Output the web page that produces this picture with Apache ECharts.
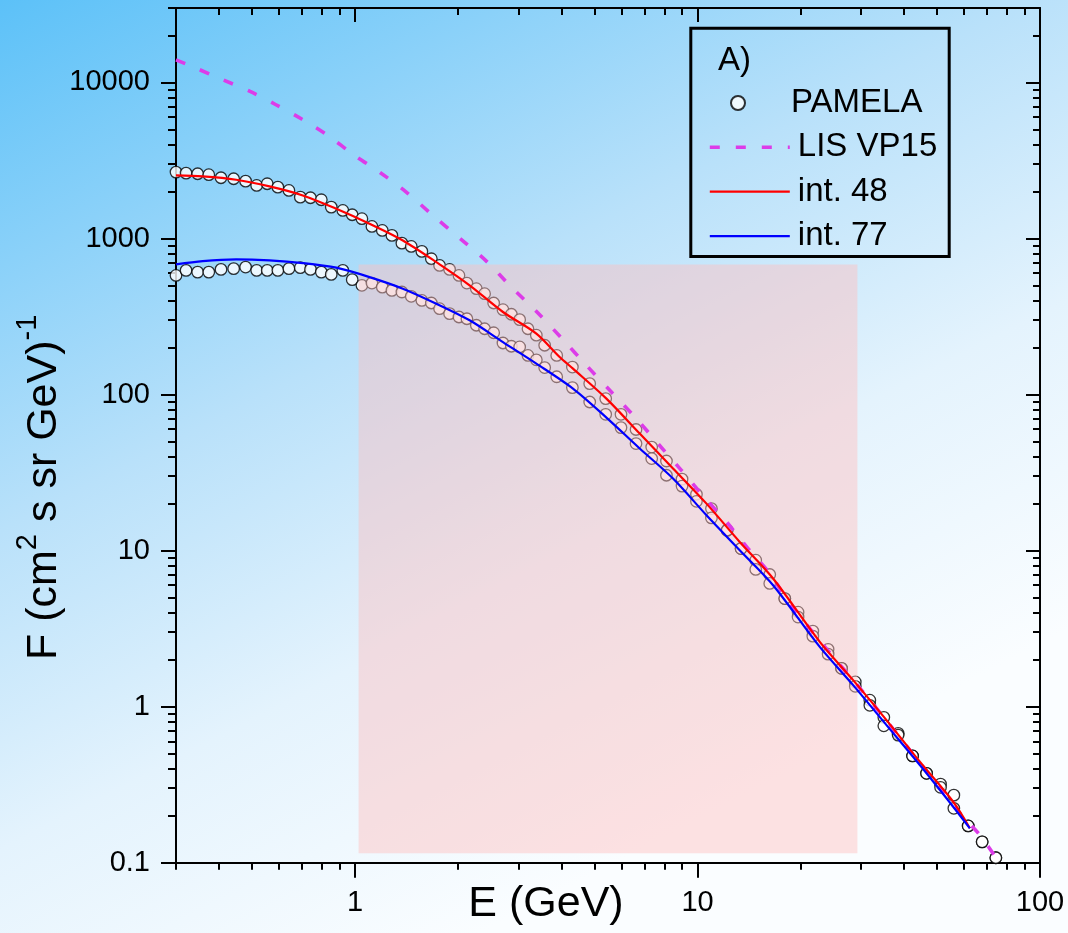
<!DOCTYPE html>
<html>
<head>
<meta charset="utf-8">
<script src="https://cdn.jsdelivr.net/npm/echarts@6/dist/echarts.min.js"></script>
<style>html,body{margin:0;padding:0;}#c{width:1068px;height:933px;}</style>
</head>
<body>
<div id="c"></div>
<script>
// ---- data ----
const energy = [0.30, 0.321, 0.347, 0.374, 0.406, 0.442, 0.479, 0.516, 0.554, 0.595, 0.641, 0.692, 0.741, 0.797, 0.852, 0.921, 0.981, 1.047, 1.120, 1.201, 1.281, 1.370, 1.459, 1.567, 1.670, 1.765, 1.888, 2.011, 2.121, 2.260, 2.389, 2.539, 2.703, 2.860, 3.024, 3.198, 3.383, 3.578, 3.88,
  4.311, 4.843, 5.393, 5.977, 6.613, 7.348, 8.114, 9.010, 9.927, 10.98, 12.20, 13.40, 14.79, 16.25, 17.98, 19.66, 21.71, 24.06, 26.33, 28.88, 31.85, 34.99, 38.53, 42.45, 46.64, 51.24, 56.03, 61.70, 67.78, 74.32];
const pamelaHigh = [2663, 2624, 2600, 2563, 2451, 2415, 2331, 2188, 2244, 2134, 2032, 1841, 1825, 1772, 1589, 1513, 1420, 1339, 1195, 1127, 1047, 934, 890, 827, 742, 672, 634, 580, 518, 477, 443, 386, 350, 327, 302, 264, 240, 207, 178,
  150.1, 117.5, 94.2, 74.7, 59.7, 46.1, 37.5, 28.7, 22.97, 18.6, 13.5, 10.3, 8.68, 7.03, 4.93, 4.03, 3.05, 2.33, 1.76, 1.44, 1.10, 0.854, 0.674, 0.483, 0.374, 0.319, 0.271, 0.172, 0.136, 0.1076];
const pamelaLow = [580, 625, 609, 609, 634, 641, 656, 625, 625, 625, 641, 650, 634, 609, 589, 625, 545, 501, 518, 488, 465, 454, 426, 401, 386, 355, 330, 314, 306, 278, 264, 249, 214, 204, 202, 178, 167, 149, 130,
  110.8, 89.6, 74.7, 61.4, 48.5, 38.9, 30.4, 25.9, 20.7, 16.2, 13.5, 10.3, 7.57, 6.16, 4.93, 3.75, 2.83, 2.17, 1.76, 1.35, 1.02, 0.754, 0.657, 0.483, 0.374, 0.304, 0.223, 0.172, 0.136, 0.1076];

const lisE = [0.3, 0.3436, 0.411, 0.4918, 0.5857, 0.6965, 0.8325, 0.9966, 1.179, 1.411, 1.688, 2.020, 2.417, 2.860, 3.420, 4.047, 4.736, 5.604, 6.586, 7.666, 8.974, 10.38, 12.15, 14.05, 16.25, 18.59, 24.88, 28.47, 33.31, 44.58, 51.0, 58.34, 66.74, 76.35];
const lisF = [13970, 12340, 10400, 8790, 7224, 5850, 4574, 3406, 2663, 1983, 1406, 1006, 716.6, 488.5, 332.9, 224.8, 153.9, 103.8, 71.2, 48.5, 32.7, 22.4, 15.27, 10.31, 7.135, 4.583, 2.085, 1.479, 0.975, 0.437, 0.2996, 0.2072, 0.1504, 0.099];

const int48E = [0.3, 0.3591, 0.4496, 0.5626, 0.7038, 0.8813, 1.102, 1.379, 1.727, 2.160, 2.703, 3.383, 3.957, 4.328, 5.419, 6.779, 8.480, 10.62, 13.28, 16.62, 22.75, 28.47, 35.63, 44.58, 55.78, 62.40];
const int48F = [2536, 2499, 2380, 2157, 1888, 1551, 1244, 972, 706, 501, 338, 245.7, 174, 146.6, 94.2, 56.2, 33.6, 20.0, 11.37, 6.627, 2.602, 1.479, 0.8203, 0.4435, 0.2458, 0.1661];

const int77E = [0.3, 0.3591, 0.4496, 0.5626, 0.7038, 0.8813, 1.102, 1.379, 1.727, 2.160, 2.703, 3.383, 4.328, 5.419, 6.779, 8.480, 10.62, 13.28, 16.62, 22.75, 28.47, 35.63, 44.58, 55.78, 62.40];
const int77F = [682.5, 716.6, 734.8, 724, 696, 650, 566, 477, 382, 299, 217, 157.9, 109.2, 71.2, 45.1, 28.95, 16.85, 10.06, 6.003, 2.417, 1.374, 0.7618, 0.4224, 0.2284, 0.1661];

const shadeE = [1.024, 29.3];
const shadeF = [0.115, 682];

const xMajor = [1, 10, 100];
const xMinor = [0.3, 0.4, 0.5, 0.6, 0.7, 0.8, 0.9, 2, 3, 4, 5, 6, 7, 8, 9, 20, 30, 40, 50, 60, 70, 80, 90];
const yMajor = [0.1, 1, 10, 100, 1000, 10000];
const yMinor = [0.2, 0.3, 0.4, 0.5, 0.6, 0.7, 0.8, 0.9, 2, 3, 4, 5, 6, 7, 8, 9, 20, 30, 40, 50, 60, 70, 80, 90,
  200, 300, 400, 500, 600, 700, 800, 900, 2000, 3000, 4000, 5000, 6000, 7000, 8000, 9000, 20000, 30000];

const X_MIN = 0.3, X_MAX = 100, Y_MIN = 0.1, Y_MAX = 30000;
const FONT = 'Liberation Sans, Arial, Helvetica, sans-serif';

// ---- helpers ----
function zip(a, b) { return a.map((v, i) => [v, b[i]]); }
function fmt(v) { return String(+(+v).toPrecision(6)); }

function axis(kind, position, ticks, len, inside, showLine, label) {
  const o = {
    type: 'log', logBase: 10, position: position,
    min: kind === 'x' ? X_MIN : Y_MIN, max: kind === 'x' ? X_MAX : Y_MAX,
    axisLine: { show: showLine, onZero: false, lineStyle: { color: '#000', width: 2 } },
    axisTick: { show: true, inside: inside, length: len, customValues: ticks, lineStyle: { color: '#000', width: 2 } },
    minorTick: { show: false },
    splitLine: { show: false },
    axisLabel: { show: false },
    silent: true
  };
  if (label) {
    o.axisLabel = {
      show: true, customValues: ticks, formatter: fmt,
      fontSize: 29, fontFamily: FONT, color: '#000',
      margin: 26, lineHeight: 29
    };
  }
  return o;
}

const xAxes = [
  axis('x', 'bottom', xMajor, 15, false, true, true),
  axis('x', 'bottom', xMinor, 7, false, false, false),
  axis('x', 'top', xMajor, 14, true, true, false),
  axis('x', 'top', xMinor, 7, true, false, false)
];
xAxes[0].name = 'E (GeV)';
xAxes[0].nameLocation = 'middle';
xAxes[0].nameGap = 20;
xAxes[0].nameMoveOverlap = false;
xAxes[0].nameTextStyle = { fontSize: 43, fontFamily: FONT, color: '#000', lineHeight: 43, padding: [0, 124, 0, 0] };

const yAxes = [
  axis('y', 'left', yMajor, 15, false, true, true),
  axis('y', 'left', yMinor, 8, false, false, false),
  axis('y', 'right', yMajor, 14, true, true, false),
  axis('y', 'right', yMinor, 7, true, false, false)
];
yAxes[0].name = '{a|F (cm}{s|2}{a| s sr GeV)}{s|-1}';
yAxes[0].nameLocation = 'middle';
yAxes[0].nameRotate = 90;
yAxes[0].nameGap = 100;
yAxes[0].nameMoveOverlap = false;
yAxes[0].nameTextStyle = {
  padding: [0, 104, 0, 0],
  rich: {
    a: { fontSize: 43, lineHeight: 63, fontFamily: FONT, color: '#000' },
    s: { fontSize: 29, lineHeight: 29, verticalAlign: 'top', fontFamily: FONT, color: '#000' }
  }
};

const markerStyle = { color: '#ffffff', borderColor: '#000', borderWidth: 1.3 };

const option = {
  animation: false,
  backgroundColor: {
    type: 'linear', x: 0, y: 0, x2: 0.45, y2: 1,
    colorStops: [
      { offset: 0, color: '#5cc1f8' },
      { offset: 0.45, color: '#b9e1fa' },
      { offset: 0.72, color: '#e4f3fd' },
      { offset: 1, color: '#fafdff' }
    ]
  },
  grid: { left: 176, right: 28, top: 8, bottom: 70.3, containLabel: false, outerBoundsMode: 'none' },
  title: {
    text: 'A)', left: 718, top: 44, padding: 0,
    textStyle: { fontSize: 33, fontWeight: 'normal', fontFamily: FONT, color: '#000', lineHeight: 33 }
  },
  legend: [
    {
      data: ['PAMELA'], orient: 'vertical', left: 730, top: 86.5, padding: 0,
      itemWidth: 14, itemHeight: 14, itemGap: 11.4, selectedMode: false,
      textStyle: { fontSize: 33, fontFamily: FONT, color: '#000', lineHeight: 33, padding: [0, 0, 0, 41] }
    },
    {
      data: ['LIS VP15', 'int. 48', 'int. 77'], orient: 'vertical', left: 708, top: 130.8, padding: 0,
      itemWidth: 80, itemHeight: 14, itemGap: 11.4, selectedMode: false,
      itemStyle: { opacity: 0 },
      lineStyle: { width: 'inherit' },
      textStyle: { fontSize: 33, fontFamily: FONT, color: '#000', lineHeight: 33, padding: [0, 0, 0, 3] }
    }
  ],
  graphic: [{
    type: 'rect', silent: true, z: 100,
    shape: { x: 690.8, y: 28.2, width: 258.4, height: 228.3 },
    style: { fill: 'none', stroke: '#000', lineWidth: 3 }
  }],
  xAxis: xAxes,
  yAxis: yAxes,
  series: [
    {
      name: 'PAMELA', type: 'scatter', xAxisIndex: 0, yAxisIndex: 0, z: 2,
      symbol: 'circle', symbolSize: 11.5, itemStyle: markerStyle,
      data: zip(energy, pamelaHigh),
      markArea: {
        silent: true, z: 3,
        itemStyle: { color: 'rgba(255,190,190,0.45)', borderWidth: 0 },
        data: [[{ coord: [shadeE[0], shadeF[1]] }, { coord: [shadeE[1], shadeF[0]] }]]
      }
    },
    {
      name: 'PAMELA', type: 'scatter', xAxisIndex: 0, yAxisIndex: 0, z: 2,
      symbol: 'circle', symbolSize: 11.5, itemStyle: markerStyle,
      data: zip(energy, pamelaLow)
    },
    {
      name: 'LIS VP15', type: 'line', xAxisIndex: 0, yAxisIndex: 0, z: 5,
      showSymbol: false, symbol: 'none', smooth: 0.3,
      lineStyle: { color: '#dc3ce8', width: 3.6, type: [10, 16] },
      itemStyle: { color: '#dc3ce8' },
      data: zip(lisE, lisF)
    },
    {
      name: 'int. 48', type: 'line', xAxisIndex: 0, yAxisIndex: 0, z: 5,
      showSymbol: false, symbol: 'none', smooth: 0.3,
      lineStyle: { color: '#ff0000', width: 2.2 },
      itemStyle: { color: '#ff0000' },
      data: zip(int48E, int48F)
    },
    {
      name: 'int. 77', type: 'line', xAxisIndex: 0, yAxisIndex: 0, z: 5,
      showSymbol: false, symbol: 'none', smooth: 0.3,
      lineStyle: { color: '#0000ff', width: 2.2 },
      itemStyle: { color: '#0000ff' },
      data: zip(int77E, int77F)
    }
  ]
};

const chart = echarts.init(document.getElementById('c'), null, { renderer: 'canvas' });
chart.setOption(option);
</script>
</body>
</html>
